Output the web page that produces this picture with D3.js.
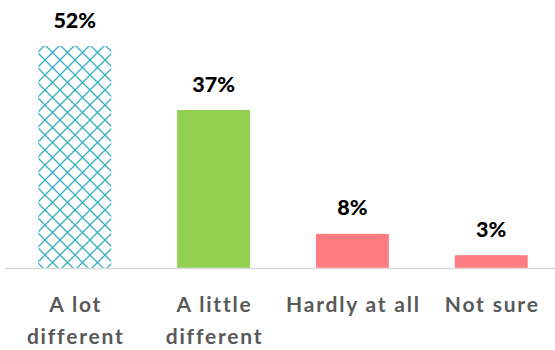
<!DOCTYPE html>
<html>
<head>
<meta charset="utf-8">
<script src="https://cdn.jsdelivr.net/npm/d3@7"></script>
<style>
  html, body { margin: 0; padding: 0; background: #fff; }
  svg { display: block; }
</style>
</head>
<body>
<svg id="chart" width="555" height="350"></svg>
<script>
// Survey responses
const categories = [["A lot", "different"], ["A little", "different"], ["Hardly at all"], ["Not sure"]];
const values = [52, 37, 8, 3];
const valueLabels = ["52%", "37%", "8%", "3%"];
const fills = ["url(#hatch)", "#92D050", "#FF7C80", "#FF7C80"];

const W = 555, H = 350;
const baseY = 268;
const svg = d3.select("#chart");

// Diamond lattice pattern for the first bar
const defs = svg.append("defs");
const pat = defs.append("pattern")
  .attr("id", "hatch")
  .attr("patternUnits", "userSpaceOnUse")
  .attr("width", 15).attr("height", 15)
  .attr("x", 0).attr("y", 0);
pat.append("rect").attr("width", 15).attr("height", 15).attr("fill", "#fff");
pat.append("path")
  .attr("d", "M0,0L15,15M15,0L0,15")
  .attr("stroke", "#35AFC4")
  .attr("stroke-width", 1.3)
  .attr("fill", "none");

const x = d3.scaleBand()
  .domain(d3.range(values.length))
  .range([5, 561])
  .paddingInner(0.475)
  .paddingOuter(0.24);

const y = d3.scaleLinear()
  .domain([0, 52])
  .range([baseY, 46]);

// Bars
svg.append("g").selectAll("rect")
  .data(values)
  .join("rect")
  .attr("x", (d, i) => x(i))
  .attr("y", d => y(d))
  .attr("width", x.bandwidth())
  .attr("height", d => baseY - y(d))
  .attr("fill", (d, i) => fills[i]);

// Baseline
svg.append("line")
  .attr("x1", 5).attr("x2", W)
  .attr("y1", baseY + 0.5).attr("y2", baseY + 0.5)
  .attr("stroke", "#D9D9D9")
  .attr("stroke-width", 1.5);

// Value labels
svg.append("g").selectAll("text")
  .data(values)
  .join("text")
  .attr("x", (d, i) => x(i) + x.bandwidth() / 2)
  .attr("y", d => y(d) - 18.5)
  .attr("text-anchor", "middle")
  .attr("font-family", "Lato, 'Open Sans', sans-serif")
  .attr("font-weight", "900")
  .attr("font-size", 21.5)
  .attr("fill", "#000")
  .text((d, i) => valueLabels[i]);

// Category labels
const cat = svg.append("g").selectAll("text")
  .data(categories)
  .join("text")
  .attr("x", (d, i) => x(i) + x.bandwidth() / 2 + 1)
  .attr("y", 312)
  .attr("text-anchor", "middle")
  .attr("font-family", "Lato, 'Open Sans', sans-serif")
  .attr("font-weight", "bold")
  .attr("font-size", 21)
  .attr("letter-spacing", "1.8px")
  .attr("fill", "#595959");
cat.selectAll("tspan")
  .data(d => d)
  .join("tspan")
  .attr("x", function() { return d3.select(this.parentNode).attr("x"); })
  .attr("dy", (d, i) => i === 0 ? 0 : 32)
  .text(d => d);
</script>
</body>
</html>
